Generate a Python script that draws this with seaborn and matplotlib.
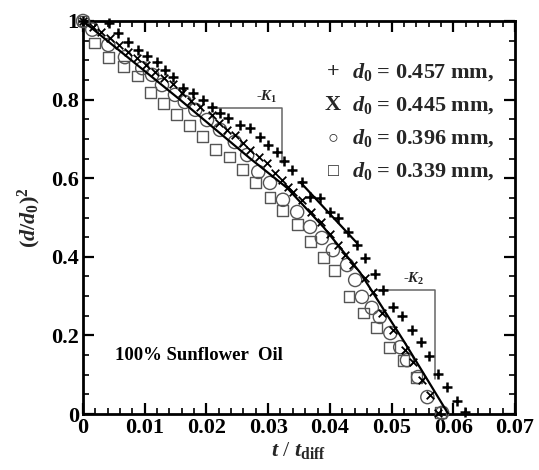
import numpy as np
import pandas as pd
import seaborn as sns
import matplotlib
matplotlib.use("Agg")
import matplotlib.pyplot as plt
from matplotlib.ticker import MultipleLocator, FixedLocator, FixedFormatter

# ---------------- data ----------------
plus_x = [0.0, 0.0042, 0.0057, 0.0073, 0.0089, 0.0104, 0.0120, 0.0133, 0.0146, 0.0162, 0.0178,
          0.0194, 0.0209, 0.0222, 0.0235, 0.0254, 0.0271, 0.0287, 0.0300, 0.0314, 0.0326,
          0.0339, 0.0355, 0.0368, 0.0384, 0.0400, 0.0413, 0.0429, 0.0444, 0.0457, 0.0473,
          0.0486, 0.0502, 0.0517, 0.0533, 0.0548, 0.0561, 0.0575, 0.0590, 0.0606, 0.0619]
plus_y = [1.0, 0.995, 0.969, 0.947, 0.926, 0.911, 0.896, 0.875, 0.858, 0.830, 0.817,
          0.799, 0.781, 0.766, 0.753, 0.735, 0.728, 0.705, 0.684, 0.667, 0.644,
          0.621, 0.590, 0.552, 0.550, 0.514, 0.499, 0.463, 0.430, 0.397, 0.356,
          0.316, 0.272, 0.249, 0.214, 0.183, 0.148, 0.102, 0.069, 0.033, 0.005]

x_x = [0.0, 0.0016, 0.0029, 0.0044, 0.0058, 0.0073, 0.0088, 0.0102, 0.0117, 0.0131, 0.0146,
       0.0160, 0.0175, 0.0190, 0.0209, 0.0220, 0.0233, 0.0246, 0.0259, 0.0271, 0.0285,
       0.0298, 0.0311, 0.0323, 0.0332, 0.0340, 0.0355, 0.0370, 0.0385, 0.0400, 0.0413,
       0.0425, 0.0438, 0.0457, 0.0470, 0.0485, 0.0502, 0.0522, 0.0535, 0.0549, 0.0562, 0.0575]
x_y = [1.0, 0.985, 0.972, 0.957, 0.939, 0.921, 0.906, 0.888, 0.870, 0.855, 0.840,
       0.818, 0.797, 0.780, 0.761, 0.740, 0.723, 0.710, 0.690, 0.672, 0.654,
       0.639, 0.613, 0.595, 0.578, 0.565, 0.545, 0.515, 0.488, 0.458, 0.430,
       0.405, 0.379, 0.346, 0.310, 0.257, 0.214, 0.163, 0.132, 0.087, 0.048, 0.003]

circ_x = [0.0, 0.0015, 0.0041, 0.0068, 0.0096, 0.0112, 0.0128, 0.0149, 0.0165, 0.0182, 0.0201,
          0.0222, 0.0246, 0.0266, 0.0284, 0.0303, 0.0324, 0.0347, 0.0368, 0.0387, 0.0405,
          0.0428, 0.0441, 0.0452, 0.0468, 0.0481, 0.0498, 0.0514, 0.0525, 0.0543, 0.0558, 0.0582]
circ_y = [1.0, 0.978, 0.939, 0.908, 0.880, 0.863, 0.837, 0.812, 0.794, 0.774, 0.748,
          0.723, 0.692, 0.659, 0.616, 0.588, 0.545, 0.514, 0.476, 0.448, 0.417,
          0.379, 0.341, 0.298, 0.270, 0.247, 0.206, 0.170, 0.137, 0.094, 0.043, 0.003]

sq_x = [0.0, 0.0019, 0.0042, 0.0065, 0.0088, 0.0109, 0.0130, 0.0152, 0.0173, 0.0194, 0.0215,
        0.0237, 0.0259, 0.0280, 0.0303, 0.0324, 0.0347, 0.0368, 0.0389, 0.0408, 0.0431,
        0.0454, 0.0476, 0.0496, 0.0519, 0.0541, 0.0579]
sq_y = [1.0, 0.944, 0.908, 0.885, 0.860, 0.819, 0.791, 0.761, 0.733, 0.705, 0.672,
        0.654, 0.623, 0.588, 0.552, 0.517, 0.481, 0.438, 0.399, 0.366, 0.298,
        0.257, 0.219, 0.170, 0.137, 0.094, 0.003]

fit_x = [0.0, 0.0157, 0.0271, 0.0331, 0.0390, 0.0449, 0.0520, 0.0592]
fit_y = [1.0, 0.800, 0.650, 0.575, 0.475, 0.360, 0.185, 0.0]

tan_x = [0.0352, 0.0444]
tan_y = [0.590, 0.435]

k1_x = [0.0209, 0.0323, 0.0323]
k1_y = [0.779, 0.779, 0.639]
k2_x = [0.0473, 0.0571, 0.0571]
k2_y = [0.316, 0.316, 0.090]

legend_labels = ["0.457", "0.445", "0.396", "0.339"]
legend_symbols = ["+", "X", "\u25CB", "\u25A1"]

x_ticks = [0.0, 0.01, 0.02, 0.03, 0.04, 0.05, 0.06, 0.07]
x_tick_labels = ["0", "0.01", "0.02", "0.03", "0.04", "0.05", "0.06", "0.07"]
y_ticks = [0.0, 0.2, 0.4, 0.6, 0.8, 1.0]
y_tick_labels = ["0", "0.2", "0.4", "0.6", "0.8", "1"]

# ---------------- style ----------------
sns.set_theme(style="ticks")
plt.rcParams["font.family"] = ["Liberation Serif", "DejaVu Sans"]
plt.rcParams["font.weight"] = "bold"
plt.rcParams["mathtext.fontset"] = "custom"
plt.rcParams["mathtext.rm"] = "Liberation Serif:bold"
plt.rcParams["mathtext.it"] = "Liberation Serif:italic:bold"
plt.rcParams["mathtext.bf"] = "Liberation Serif:bold"

fig = plt.figure(figsize=(5.39, 4.70), dpi=100)
W, H = 539, 470
ax = fig.add_axes([83 / W, 1 - 414 / H, (515 - 83) / W, (414 - 21) / H])

gray = "#555555"
sns.scatterplot(x=sq_x, y=sq_y, marker="s", s=62, facecolor="none", edgecolor=gray,
                linewidth=1.0, ax=ax, clip_on=False, zorder=3)
sns.scatterplot(x=circ_x, y=circ_y, marker="o", s=90, facecolor="none", edgecolor=gray,
                linewidth=1.0, ax=ax, clip_on=False, zorder=3)
sns.lineplot(x=fit_x, y=fit_y, sort=False, estimator=None, color="black", linewidth=1.6,
             ax=ax, zorder=4)
sns.lineplot(x=tan_x, y=tan_y, sort=False, estimator=None, color="black", linewidth=1.6,
             ax=ax, zorder=4)
sns.scatterplot(x=x_x, y=x_y, marker="x", s=30, color="black", linewidth=1.3, ax=ax,
                clip_on=False, zorder=5)
sns.scatterplot(x=plus_x, y=plus_y, marker="+", s=42, color="black", linewidth=1.8, ax=ax,
                clip_on=False, zorder=5)
sns.lineplot(x=k1_x, y=k1_y, sort=False, estimator=None, color="#666666", linewidth=1.1,
             ax=ax, zorder=2)
sns.lineplot(x=k2_x, y=k2_y, sort=False, estimator=None, color="#666666", linewidth=1.1,
             ax=ax, zorder=2)

ax.text(0.0297, 0.786, r"-$K_1$", fontsize=10.5, ha="center", va="bottom", color="#222222")
ax.text(0.0536, 0.323, r"-$K_2$", fontsize=10.5, ha="center", va="bottom", color="#222222")
ax.text(0.0052, 0.148, "100% Sunflower  Oil", fontsize=13.5, fontweight="bold", ha="left",
        va="center", color="black")

# legend as text
rows_y = [72, 105, 138, 171]
for sym, lab, ry in zip(legend_symbols, legend_labels, rows_y):
    fig.text(333 / W, 1 - ry / H, sym, fontsize=16 if sym in "+X" else 13,
             fontweight="bold", ha="center", va="center",
             family=["Liberation Serif", "DejaVu Sans"])
    fig.text(352 / W, 1 - ry / H, r"$d_0$ = " + lab + " mm,", fontsize=16,
             fontweight="bold", ha="left", va="center")

ax.set_xlim(0, 0.07)
ax.set_ylim(0, 1)
ax.xaxis.set_major_locator(FixedLocator(x_ticks))
ax.xaxis.set_major_formatter(FixedFormatter(x_tick_labels))
ax.yaxis.set_major_locator(FixedLocator(y_ticks))
ax.yaxis.set_major_formatter(FixedFormatter(y_tick_labels))
ax.xaxis.set_minor_locator(MultipleLocator(0.002))
ax.yaxis.set_minor_locator(MultipleLocator(0.05))
ax.tick_params(which="both", direction="in", top=True, right=True, width=1.6, colors="black")
ax.tick_params(which="major", length=8, labelsize=16, pad=3)
ax.tick_params(which="minor", length=4.5, width=1.2)
for lab in ax.get_xticklabels() + ax.get_yticklabels():
    lab.set_fontweight("bold")
for sp in ax.spines.values():
    sp.set_linewidth(2.0)
    sp.set_color("black")

ax.set_xlabel(r"$t$ / $t_{\mathrm{diff}}$", fontsize=16, labelpad=1)
ax.set_ylabel(r"$(d/d_0)^2$", fontsize=16, labelpad=6)

fig.savefig("out.png", dpi=100)
